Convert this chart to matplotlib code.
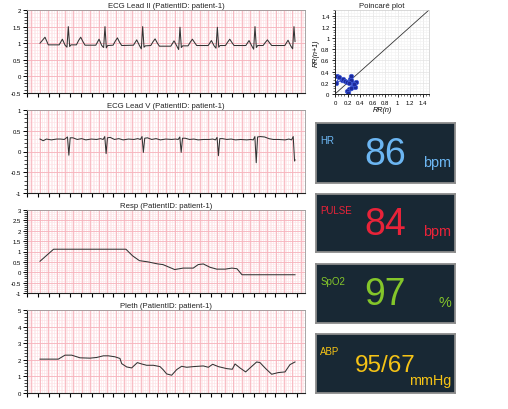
import numpy as np
import matplotlib
matplotlib.use("Agg")
import matplotlib.pyplot as plt
from matplotlib.ticker import MultipleLocator, AutoMinorLocator

plt.rcParams['font.family'] = ['Liberation Sans', 'DejaVu Sans']

# ---------------- data ----------------
patient = "patient-1"

ecg2_t = [0.241, 0.333, 0.395,
          0.595, 0.655, 0.705, 0.74, 0.765, 0.79, 0.815, 0.915, 0.955, 0.995, 1.035, 1.075,
          1.274, 1.334, 1.384, 1.419, 1.444, 1.469, 1.494, 1.594, 1.634, 1.674, 1.714, 1.754,
          1.972, 2.032, 2.082, 2.117, 2.142, 2.167, 2.192, 2.292, 2.332, 2.372, 2.412, 2.452,
          2.663, 2.723, 2.773, 2.808, 2.833, 2.858, 2.883, 2.983, 3.023, 3.063, 3.103, 3.143,
          3.355, 3.415, 3.465, 3.500, 3.525, 3.550, 3.575, 3.675, 3.715, 3.755, 3.795, 3.835,
          4.052, 4.112, 4.162, 4.197, 4.222, 4.247, 4.272, 4.372, 4.412, 4.452, 4.492, 4.532,
          4.774, 4.834, 4.884, 4.919, 4.944, 4.963]
ecg2_v = [1.00, 1.18, 0.95,
          0.95, 1.12, 0.94, 0.88, 1.50, 0.90, 0.95, 0.95, 1.08, 1.18, 1.05, 0.94,
          0.94, 1.12, 0.93, 0.87, 1.50, 0.86, 0.93, 0.94, 1.06, 1.16, 1.03, 0.93,
          0.94, 1.10, 0.93, 0.83, 1.50, 0.88, 0.92, 0.93, 1.04, 1.13, 1.01, 0.91,
          0.91, 1.07, 0.92, 0.81, 1.48, 0.87, 0.92, 0.92, 1.03, 1.12, 1.02, 0.93,
          0.93, 1.08, 0.92, 0.85, 1.48, 0.88, 0.93, 0.93, 1.03, 1.12, 1.02, 0.93,
          0.93, 1.08, 0.92, 0.82, 1.50, 0.87, 0.93, 0.93, 1.02, 1.10, 1.01, 0.93,
          0.93, 1.09, 0.92, 0.83, 1.50, 1.05]

ecgv_t = [0.241, 0.30, 0.36, 0.45, 0.55, 0.62, 0.69, 0.75, 0.775, 0.80, 0.85, 0.93, 1.01, 1.09, 1.19,
          1.29, 1.36, 1.41, 1.44, 1.465, 1.49, 1.54, 1.62, 1.70, 1.78, 1.88,
          1.98, 2.05, 2.10, 2.13, 2.155, 2.18, 2.23, 2.31, 2.39, 2.47, 2.57,
          2.68, 2.75, 2.80, 2.83, 2.855, 2.88, 2.93, 3.01, 3.09, 3.17, 3.27,
          3.37, 3.44, 3.49, 3.52, 3.545, 3.57, 3.62, 3.70, 3.78, 3.86, 3.96,
          4.07, 4.14, 4.19, 4.22, 4.245, 4.27, 4.32, 4.40, 4.48, 4.56, 4.66,
          4.78, 4.85, 4.90, 4.93, 4.955, 4.963]
ecgv_v = [0.30, 0.26, 0.30, 0.28, 0.30, 0.30, 0.29, 0.35, -0.09, 0.33, 0.33, 0.29, 0.31, 0.28, 0.30,
          0.29, 0.31, 0.29, 0.36, -0.05, 0.33, 0.34, 0.29, 0.31, 0.28, 0.30,
          0.29, 0.31, 0.29, 0.36, -0.02, 0.32, 0.33, 0.29, 0.31, 0.28, 0.30,
          0.29, 0.30, 0.29, 0.35, -0.02, 0.32, 0.32, 0.29, 0.30, 0.28, 0.29,
          0.29, 0.30, 0.28, 0.34, -0.10, 0.31, 0.31, 0.29, 0.30, 0.28, 0.29,
          0.28, 0.29, 0.28, 0.36, -0.27, 0.35, 0.36, 0.35, 0.31, 0.29, 0.29,
          0.28, 0.30, 0.28, 0.36, -0.23, -0.20]

resp_t = [0.241, 0.492, 1.832, 1.956, 2.081, 2.237, 2.424, 2.517, 2.735, 2.891, 3.078,
          3.171, 3.265, 3.389, 3.514, 3.670, 3.794, 3.888, 3.981, 4.963]
resp_v = [0.53, 1.11, 1.11, 0.79, 0.56, 0.50, 0.40, 0.37, 0.13, 0.20, 0.20,
          0.37, 0.40, 0.24, 0.15, 0.15, 0.20, 0.17, -0.12, -0.12]

pleth_t = [0.241, 0.580, 0.704, 0.827, 0.981, 1.167, 1.290, 1.414, 1.506, 1.630, 1.722, 1.753,
           1.846, 1.938, 2.043, 2.123, 2.216, 2.340, 2.463, 2.525, 2.586, 2.679, 2.772, 2.864,
           2.957, 3.080, 3.265, 3.358, 3.438, 3.543, 3.697, 3.802, 3.852, 3.944, 4.049, 4.130,
           4.253, 4.315, 4.420, 4.531, 4.654, 4.778, 4.870, 4.963]
pleth_v = [2.04, 2.04, 2.28, 2.28, 2.12, 2.10, 2.14, 2.24, 2.24, 2.18, 2.08, 1.77,
           1.57, 1.51, 1.83, 1.75, 1.67, 1.67, 1.59, 1.39, 1.15, 1.07, 1.41, 1.61,
           1.55, 1.59, 1.63, 1.55, 1.73, 1.59, 1.47, 1.43, 1.75, 1.51, 1.27, 1.51,
           1.87, 1.83, 1.47, 1.13, 1.23, 1.27, 1.71, 1.87]

rr_n = [0.03, 0.07, 0.02, 0.11, 0.13, 0.16, 0.19, 0.24, 0.25, 0.27, 0.29, 0.23,
        0.19, 0.21, 0.25, 0.32, 0.34, 0.30, 0.26, 0.22]
rr_n1 = [0.32, 0.30, 0.20, 0.25, 0.27, 0.24, 0.21, 0.27, 0.32, 0.21, 0.14, 0.09,
         0.06, 0.02, 0.10, 0.12, 0.22, 0.18, 0.25, 0.20]

vital_labels = ["HR", "PULSE", "SpO2", "ABP"]
vital_values = ["86", "84", "97", "95/67"]
vital_units = ["bpm", "bpm", "%", "mmHg"]
vital_colors = ["#6cb6f2", "#e82339", "#84c62a", "#f5c316"]

# ---------------- figure ----------------
W, H = 508, 410
fig = plt.figure(figsize=(W / 100, H / 100), dpi=100)
fig.patch.set_facecolor('white')


def px_axes(x0, y0, x1, y1, **kw):
    return fig.add_axes([x0 / W, 1 - y1 / H, (x1 - x0) / W, (y1 - y0) / H], **kw)


XMAX = 278 / 54.0


def ecg_axes(y0, y1, ylim, ystep, title, t, v):
    ax = px_axes(27, y0, 305, y1)
    ax.set_xlim(0, XMAX)
    ax.set_ylim(*ylim)
    # paper grid
    mstep = ystep / 5.0
    for yy in np.arange(ylim[0], ylim[1] + 1e-9, mstep):
        ax.axhline(yy, color='#fde3e7', lw=0.45, zorder=0)
    for xx in np.arange(0, XMAX, 0.156 / 5):
        ax.axvline(xx, color='#fde3e7', lw=0.45, zorder=0)
    for yy in np.arange(ylim[0], ylim[1] + 1e-9, ystep):
        ax.axhline(yy, color='#f7b3bc', lw=0.6, zorder=1)
    for xx in np.arange(0.08, XMAX, 0.156):
        ax.axvline(xx, color='#f7b3bc', lw=0.6, zorder=1)
    ax.plot(t, v, color='#333333', lw=0.75, zorder=3)
    ax.yaxis.set_major_locator(MultipleLocator(ystep))
    ax.yaxis.set_minor_locator(AutoMinorLocator(5))
    ax.xaxis.set_major_locator(MultipleLocator(0.2))
    ax.xaxis.set_minor_locator(MultipleLocator(0.1))
    ax.tick_params(axis='x', which='major', length=3, width=0.8, labelbottom=False)
    ax.tick_params(axis='x', which='minor', length=0)
    ax.tick_params(axis='y', which='major', length=3, width=0.7, labelsize=4.3, pad=1.5)
    ax.tick_params(axis='y', which='minor', length=2, width=0.5)
    ax.yaxis.set_major_formatter(matplotlib.ticker.FuncFormatter(lambda val, p: ('%g' % val)))
    for s in ['top', 'right']:
        ax.spines[s].set_color('#999999')
        ax.spines[s].set_linewidth(0.6)
    for s in ['left', 'bottom']:
        ax.spines[s].set_color('#222222')
        ax.spines[s].set_linewidth(0.8)
    ax.set_title(title, fontsize=5.6, pad=2.5, color='#222222')
    return ax


ecg_axes(11, 94, (-0.5, 2), 0.5, "ECG Lead II (PatientID: %s)" % patient, ecg2_t, ecg2_v)
ecg_axes(111, 194, (-1, 1), 0.5, "ECG Lead V (PatientID: %s)" % patient, ecgv_t, ecgv_v)
ecg_axes(211, 294, (-1, 3), 0.5, "Resp (PatientID: %s)" % patient, resp_t, resp_v)
ecg_axes(311, 394, (0, 5), 1, "Pleth (PatientID: %s)" % patient, pleth_t, pleth_v)

# Poincare
ax = px_axes(335, 11, 429, 95)
ax.set_xlim(0, 1.5)
ax.set_ylim(0, 1.5)
ax.xaxis.set_major_locator(MultipleLocator(0.2))
ax.yaxis.set_major_locator(MultipleLocator(0.2))
ax.xaxis.set_minor_locator(MultipleLocator(0.05))
ax.yaxis.set_minor_locator(MultipleLocator(0.05))
ax.grid(True, which='major', color='#e3e3e3', lw=0.5)
ax.grid(True, which='minor', color='#f2f2f2', lw=0.4)
ax.set_axisbelow(True)
ax.plot([0, 1.5], [0, 1.5], color='#333333', lw=0.6)
ax.plot(rr_n, rr_n1, color='#3b4fc4', lw=0.8, marker='o', ms=3.2,
        mfc='#1c2a9a', mec='#3c58d8', mew=0.5)
ax.tick_params(which='major', length=2.5, width=0.6, labelsize=4.3, pad=1.5)
ax.tick_params(which='minor', length=1.5, width=0.4)
ax.xaxis.set_major_formatter(matplotlib.ticker.FuncFormatter(lambda val, p: ('%g' % round(val, 2))))
ax.yaxis.set_major_formatter(matplotlib.ticker.FuncFormatter(lambda val, p: ('%g' % round(val, 2))))
for s in ['top', 'right']:
    ax.spines[s].set_color('#cccccc')
    ax.spines[s].set_linewidth(0.5)
for s in ['left', 'bottom']:
    ax.spines[s].set_color('#222222')
    ax.spines[s].set_linewidth(0.7)
ax.set_title("Poincaré plot", fontsize=5.6, pad=2.5, color='#222222')
ax.set_xlabel("RR(n)", fontsize=5.2, style='italic', labelpad=1)
ax.set_ylabel("RR(n+1)", fontsize=5.2, style='italic', labelpad=1)

# vital sign boxes
boxes = [(124, 184), (195, 253), (265, 324), (335, 394)]
for i, (y0, y1) in enumerate(boxes):
    bx = px_axes(316, y0, 455, y1, facecolor='#182834')
    bx.set_xticks([])
    bx.set_yticks([])
    bx.set_xlim(0, 1)
    bx.set_ylim(0, 1)
    for s in bx.spines.values():
        s.set_color('#8c8c8c')
        s.set_linewidth(1.3)
    c = vital_colors[i]
    bx.text(0.03, 0.665, vital_labels[i], color=c, fontsize=7, ha='left', va='baseline')
    if vital_labels[i] == "ABP":
        bx.text(0.5, 0.378, vital_values[i], color=c, fontsize=17.5, ha='center', va='baseline')
        bx.text(0.97, 0.153, vital_units[i], color=c, fontsize=10.4, ha='right', va='baseline')
    else:
        bx.text(0.5, 0.315, vital_values[i], color=c, fontsize=27, ha='center', va='baseline')
        bx.text(0.97, 0.29, vital_units[i], color=c, fontsize=10.4, ha='right', va='baseline')

fig.savefig("out.png", dpi=100, facecolor='white')
